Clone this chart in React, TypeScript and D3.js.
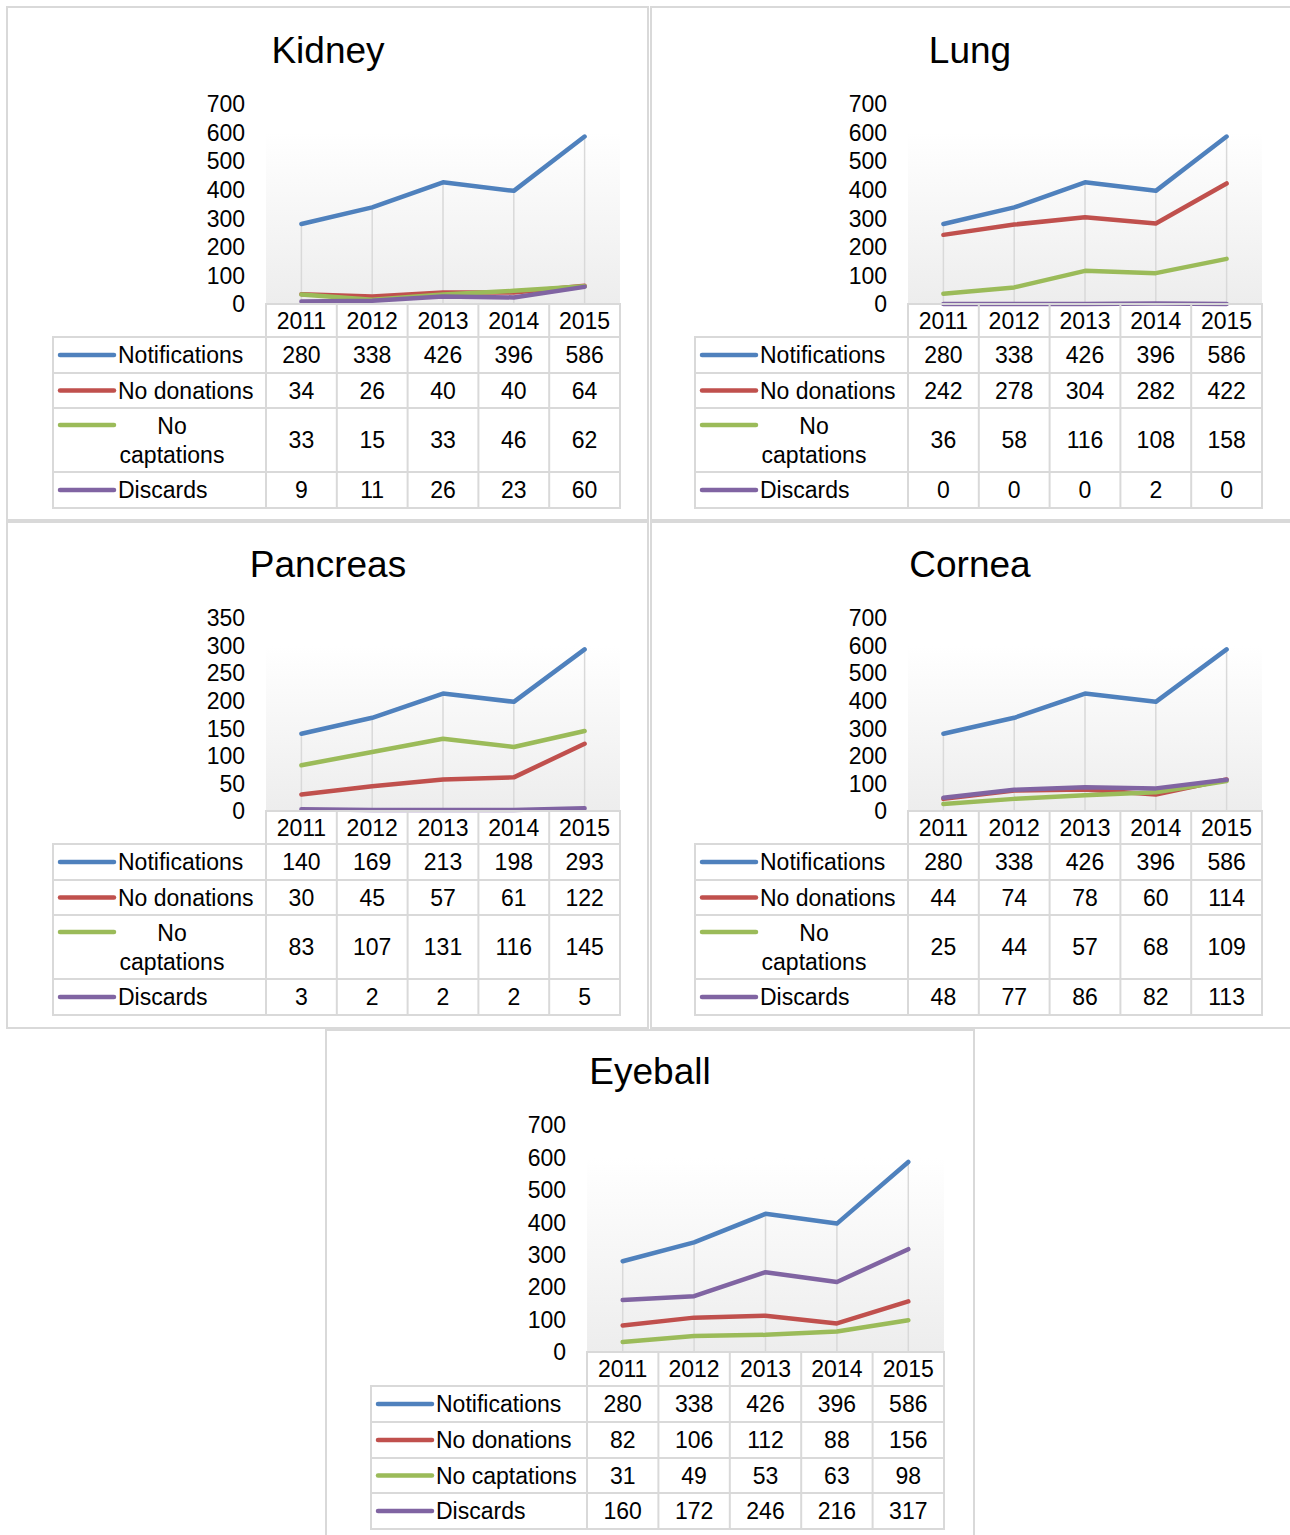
import React from 'react';
import * as d3 from 'd3';

// categories and series
const years = ['2011', '2012', '2013', '2014', '2015'];
const seriesNames = ['Notifications', 'No donations', 'No captations', 'Discards'];
const seriesColors = ['#4f81bd', '#c0504d', '#9bbb59', '#8064a2'];

// Kidney
const kidneyNotifications = [280, 338, 426, 396, 586];
const kidneyNoDonations = [34, 26, 40, 40, 64];
const kidneyNoCaptations = [33, 15, 33, 46, 62];
const kidneyDiscards = [9, 11, 26, 23, 60];

// Lung
const lungNotifications = [280, 338, 426, 396, 586];
const lungNoDonations = [242, 278, 304, 282, 422];
const lungNoCaptations = [36, 58, 116, 108, 158];
const lungDiscards = [0, 0, 0, 2, 0];

// Pancreas
const pancreasNotifications = [140, 169, 213, 198, 293];
const pancreasNoDonations = [30, 45, 57, 61, 122];
const pancreasNoCaptations = [83, 107, 131, 116, 145];
const pancreasDiscards = [3, 2, 2, 2, 5];

// Cornea
const corneaNotifications = [280, 338, 426, 396, 586];
const corneaNoDonations = [44, 74, 78, 60, 114];
const corneaNoCaptations = [25, 44, 57, 68, 109];
const corneaDiscards = [48, 77, 86, 82, 113];

// Eyeball
const eyeballNotifications = [280, 338, 426, 396, 586];
const eyeballNoDonations = [82, 106, 112, 88, 156];
const eyeballNoCaptations = [31, 49, 53, 63, 98];
const eyeballDiscards = [160, 172, 246, 216, 317];

const FONT = '"Liberation Sans", Arial, sans-serif';
const GRID = '#d9d9d9';

type PanelProps = {
  id: string;
  title: string;
  series: number[][];
  yMax: number;
  yStep: number;
  box: { x: number; y: number; w: number; h: number };
  titleX: number;
  titleY: number;
  plotLeft: number;
  plotRight: number;
  yTop: number;
  yBase: number;
  tickRight: number;
  tableLeft: number;
  rows: number[]; // bottom edges of header + 4 rows
  wrap: boolean;
};

const Panel = (p: PanelProps) => {
  const x = d3.scaleBand<string>().domain(years).range([p.plotLeft, p.plotRight]).padding(0);
  const cx = (yr: string) => (x(yr) as number) + x.bandwidth() / 2;
  const y = d3.scaleLinear().domain([0, p.yMax]).range([p.yBase, p.yTop]);
  const ticks = d3.range(0, p.yMax + p.yStep / 2, p.yStep);
  const line = d3
    .line<number>()
    .x((_, i) => cx(years[i]))
    .y(d => y(d));

  const maxes = years.map((_, i) => d3.max(p.series, s => s[i]) as number);
  const gradTop = y(p.yMax - p.yStep);
  const fs = 23;
  const mid = (a: number, b: number) => (a + b) / 2 + fs * 0.36;
  const rowTops = [p.yBase, ...p.rows.slice(0, 4)];
  const colEdges = [...years.map(yr => x(yr) as number), p.plotRight];

  return (
    <g>
      <defs>
        <linearGradient id={`grad-${p.id}`} x1="0" y1="0" x2="0" y2="1">
          <stop offset="0%" stopColor="#ffffff" />
          <stop offset="100%" stopColor="#ededed" />
        </linearGradient>
      </defs>
      <rect x={p.box.x} y={p.box.y} width={p.box.w} height={p.box.h} fill="#fff" stroke={GRID} strokeWidth={2} />
      <text x={p.titleX} y={p.titleY} textAnchor="middle" fontSize={37} fontFamily={FONT} fill="#000">
        {p.title}
      </text>

      {/* y ticks */}
      {ticks.map(t => (
        <text key={t} x={p.tickRight} y={y(t) + fs * 0.36} textAnchor="end" fontSize={fs} fontFamily={FONT} fill="#000">
          {t}
        </text>
      ))}

      {/* plot area */}
      <rect x={p.plotLeft} y={gradTop} width={p.plotRight - p.plotLeft} height={p.yBase - gradTop} fill={`url(#grad-${p.id})`} />
      {years.map((yr, i) => (
        <line key={yr} x1={cx(yr)} x2={cx(yr)} y1={y(maxes[i])} y2={p.yBase} stroke={GRID} strokeWidth={1.5} />
      ))}
      {p.series.map((s, k) => (
        <path key={k} d={line(s) as string} fill="none" stroke={seriesColors[k]} strokeWidth={4.5} strokeLinecap="round" strokeLinejoin="round" />
      ))}

      {/* data table */}
      <g stroke={GRID} strokeWidth={2} fill="none">
        <rect x={p.plotLeft} y={p.yBase} width={p.plotRight - p.plotLeft} height={p.rows[0] - p.yBase} />
        <rect x={p.tableLeft} y={p.rows[0]} width={p.plotRight - p.tableLeft} height={p.rows[4] - p.rows[0]} />
        {p.rows.slice(0, 4).map(r => (
          <line key={r} x1={p.tableLeft} x2={p.plotRight} y1={r} y2={r} />
        ))}
        {colEdges.map(c => (
          <line key={c} x1={c} x2={c} y1={p.yBase} y2={p.rows[4]} />
        ))}
      </g>
      {years.map(yr => (
        <text key={yr} x={cx(yr)} y={mid(p.yBase, p.rows[0])} textAnchor="middle" fontSize={fs} fontFamily={FONT}>
          {yr}
        </text>
      ))}
      {seriesNames.map((name, k) => {
        const top = p.rows[k];
        const bot = p.rows[k + 1];
        const twoLine = p.wrap && name === 'No captations';
        const ly = twoLine ? mid(top, bot) - 15 - fs * 0.36 : (top + bot) / 2;
        return (
          <g key={name}>
            <line x1={p.tableLeft + 7} x2={p.tableLeft + 61} y1={ly} y2={ly} stroke={seriesColors[k]} strokeWidth={4.5} strokeLinecap="round" />
            {twoLine ? (
              <text textAnchor="middle" fontSize={fs} fontFamily={FONT}>
                <tspan x={p.tableLeft + 119} y={mid(top, bot) - 14}>No</tspan>
                <tspan x={p.tableLeft + 119} y={mid(top, bot) + 15}>captations</tspan>
              </text>
            ) : (
              <text x={p.tableLeft + 65} y={mid(top, bot)} fontSize={fs} fontFamily={FONT}>
                {name}
              </text>
            )}
            {years.map((yr, i) => (
              <text key={yr} x={cx(yr)} y={mid(top, bot)} textAnchor="middle" fontSize={fs} fontFamily={FONT}>
                {p.series[k][i]}
              </text>
            ))}
          </g>
        );
      })}
    </g>
  );
};

export default function App() {
  const topRows = [337, 373, 408, 472, 508];
  const midRows = [844, 880, 915, 979, 1015];
  return (
    <svg width={1290} height={1535} style={{ position: 'absolute', left: 0, top: 0, background: '#fff' }}>
      <Panel
        id="kidney" title="Kidney"
        series={[kidneyNotifications, kidneyNoDonations, kidneyNoCaptations, kidneyDiscards]}
        yMax={700} yStep={100}
        box={{ x: 7, y: 7, w: 641, h: 513 }} titleX={328} titleY={63}
        plotLeft={266} plotRight={620} yTop={104} yBase={304} tickRight={245}
        tableLeft={53} rows={topRows} wrap
      />
      <Panel
        id="lung" title="Lung"
        series={[lungNotifications, lungNoDonations, lungNoCaptations, lungDiscards]}
        yMax={700} yStep={100}
        box={{ x: 651, y: 7, w: 645, h: 513 }} titleX={970} titleY={63}
        plotLeft={908} plotRight={1262} yTop={104} yBase={304} tickRight={887}
        tableLeft={695} rows={topRows} wrap
      />
      <Panel
        id="pancreas" title="Pancreas"
        series={[pancreasNotifications, pancreasNoDonations, pancreasNoCaptations, pancreasDiscards]}
        yMax={350} yStep={50}
        box={{ x: 7, y: 522, w: 641, h: 506 }} titleX={328} titleY={577}
        plotLeft={266} plotRight={620} yTop={618} yBase={811} tickRight={245}
        tableLeft={53} rows={midRows} wrap
      />
      <Panel
        id="cornea" title="Cornea"
        series={[corneaNotifications, corneaNoDonations, corneaNoCaptations, corneaDiscards]}
        yMax={700} yStep={100}
        box={{ x: 651, y: 522, w: 645, h: 506 }} titleX={970} titleY={577}
        plotLeft={908} plotRight={1262} yTop={618} yBase={811} tickRight={887}
        tableLeft={695} rows={midRows} wrap
      />
      <Panel
        id="eyeball" title="Eyeball"
        series={[eyeballNotifications, eyeballNoDonations, eyeballNoCaptations, eyeballDiscards]}
        yMax={700} yStep={100}
        box={{ x: 326, y: 1030, w: 648, h: 520 }} titleX={650} titleY={1084}
        plotLeft={587} plotRight={944} yTop={1125} yBase={1352} tickRight={566}
        tableLeft={371} rows={[1386, 1422, 1458, 1493, 1529]} wrap={false}
      />
    </svg>
  );
}
